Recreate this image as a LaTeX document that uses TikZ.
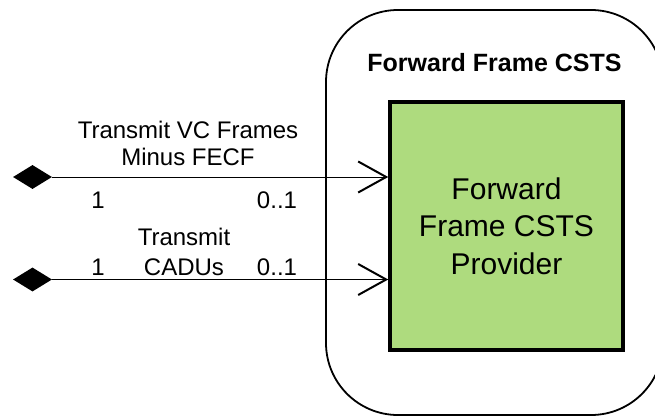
\documentclass[tikz,border=0pt]{standalone}
\usepackage{fontspec}
\setmainfont{Liberation Sans}
\usetikzlibrary{arrows.meta,shapes.geometric}
\definecolor{provgreen}{RGB}{174,219,126}
\begin{document}
\begin{tikzpicture}[x=1pt,y=-1pt,
  lbl/.style={font=\fontsize{24}{27}\selectfont, inner sep=0pt, anchor=base, align=center},
  agg/.style={diamond, fill=black, draw=none, minimum width=39pt, minimum height=24pt, inner sep=0pt},
  assoc/.style={line width=1pt, -{Straight Barb[length=28pt,width=31pt,line width=2pt]}}]
\useasboundingbox (0,0) rectangle (655,417);
\node[draw, line width=1.8pt, rounded corners=72pt, minimum width=337pt, minimum height=405pt] (csts) at (494.5,212.5) {};
\node[font=\bfseries\fontsize{25}{30}\selectfont, inner sep=0pt, anchor=base] (title) at (494.5,72) {Forward Frame CSTS};
\node[draw, fill=provgreen, line width=3.5pt, minimum width=233pt, minimum height=248pt, inner sep=0pt, align=center, font=\fontsize{30}{37.5}\selectfont] (prov) at (506.5,226) {Forward\\Frame CSTS\\Provider};
\node[agg] (d1) at (32.5,177) {};
\node[agg] (d2) at (32.5,279.5) {};
\draw[assoc] (d1.east) -- (d1.east -| prov.west);
\draw[assoc] (d2.east) -- (d2.east -| prov.west);
\node[lbl] (l1) at (188,165) {Transmit VC Frames\\Minus FECF};
\node[lbl] (m1a) at (98,208) {1};
\node[lbl] (m1b) at (277,208) {0..1};
\node[lbl, font=\fontsize{24}{30}\selectfont] (l2) at (184,275) {Transmit\\CADUs};
\node[lbl] (m2a) at (98,275) {1};
\node[lbl] (m2b) at (277,275) {0..1};
\end{tikzpicture}
\end{document}
